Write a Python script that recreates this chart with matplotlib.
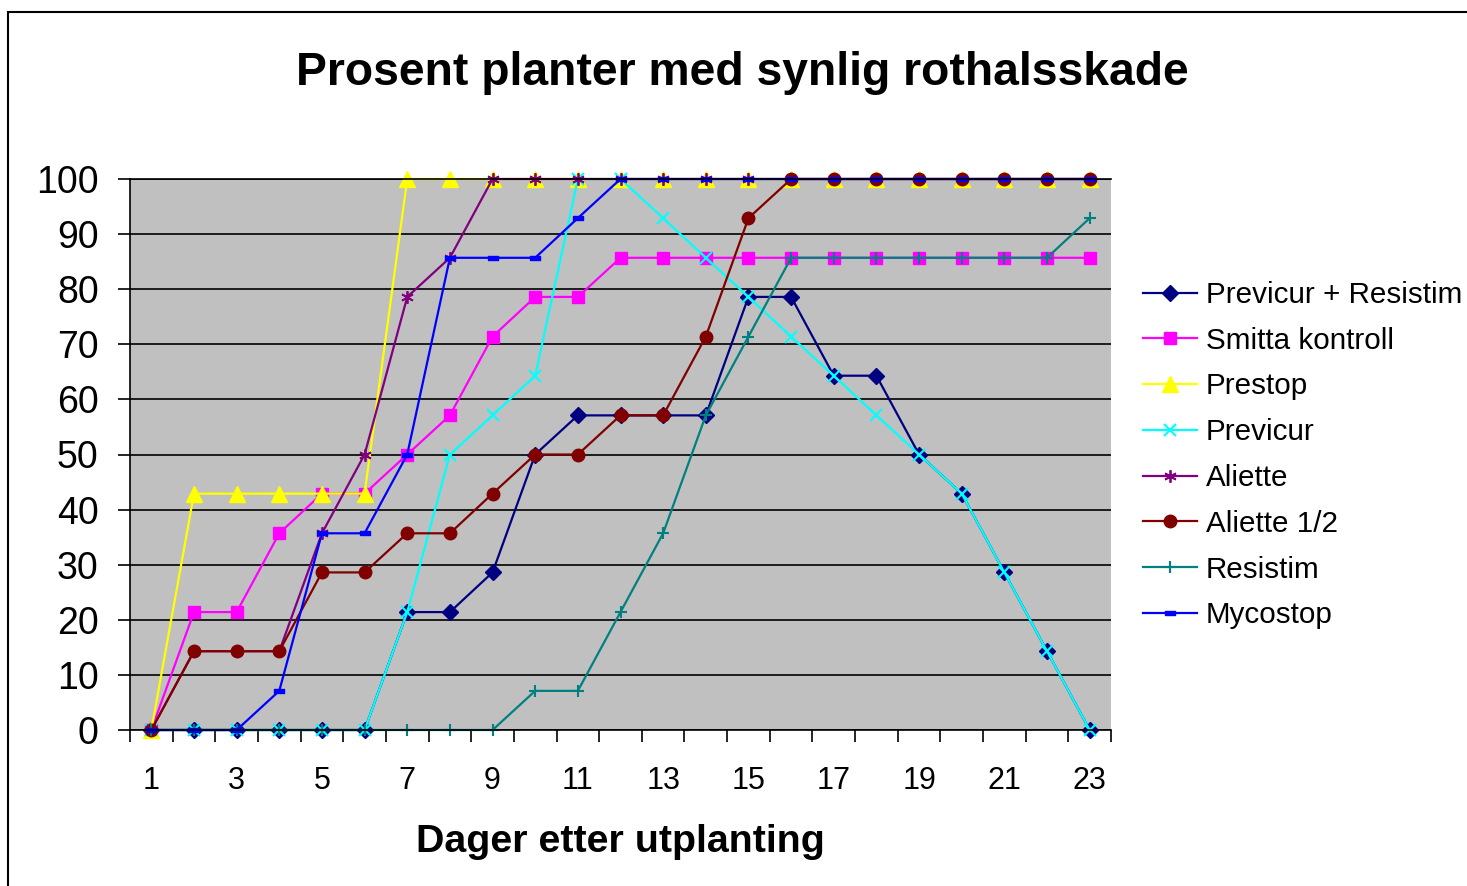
import numpy as np
import matplotlib.pyplot as plt
from matplotlib.patches import Rectangle
from matplotlib.ticker import MultipleLocator, FixedLocator

plt.rcParams['font.family'] = ['Liberation Sans', 'DejaVu Sans']

# Data (percent of plants with visible damage, 14 plants per treatment)
days = list(range(1, 24))

previcur_resistim = [0, 0, 0, 0, 0, 0, 21.4, 21.4, 28.6, 50, 57.1, 57.1, 57.1, 57.1,
                     78.6, 78.6, 64.3, 64.3, 50, 42.9, 28.6, 14.3, 0]
smitta_kontroll = [0, 21.4, 21.4, 35.7, 42.9, 42.9, 50, 57.1, 71.4, 78.6, 78.6, 85.7,
                   85.7, 85.7, 85.7, 85.7, 85.7, 85.7, 85.7, 85.7, 85.7, 85.7, 85.7]
prestop = [0, 42.9, 42.9, 42.9, 42.9, 42.9, 100, 100, 100, 100, 100, 100,
           100, 100, 100, 100, 100, 100, 100, 100, 100, 100, 100]
previcur = [0, 0, 0, 0, 0, 0, 21.4, 50, 57.1, 64.3, 100, 100, 92.9, 85.7,
            78.6, 71.4, 64.3, 57.1, 50, 42.9, 28.6, 14.3, 0]
aliette = [0, 14.3, 14.3, 14.3, 35.7, 50, 78.6, 85.7, 100, 100, 100, 100,
           100, 100, 100, 100, 100, 100, 100, 100, 100, 100, 100]
aliette_half = [0, 14.3, 14.3, 14.3, 28.6, 28.6, 35.7, 35.7, 42.9, 50, 50, 57.1,
                57.1, 71.4, 92.9, 100, 100, 100, 100, 100, 100, 100, 100]
resistim = [0, 0, 0, 0, 0, 0, 0, 0, 0, 7.1, 7.1, 21.4, 35.7, 57.1, 71.4, 85.7,
            85.7, 85.7, 85.7, 85.7, 85.7, 85.7, 92.9]
mycostop = [0, 0, 0, 7.1, 35.7, 35.7, 50, 85.7, 85.7, 85.7, 92.9, 100,
            100, 100, 100, 100, 100, 100, 100, 100, 100, 100, 100]

labels = ["Previcur + Resistim", "Smitta kontroll", "Prestop", "Previcur",
          "Aliette", "Aliette 1/2", "Resistim", "Mycostop"]

dash = [(-1, -0.45), (1, -0.45), (1, 0.45), (-1, 0.45), (-1, -0.45)]

styles = [
    dict(color="#000080", marker="D", ms=8),
    dict(color="#FF00FF", marker="s", ms=9),
    dict(color="#FFFF00", marker="^", ms=11),
    dict(color="#00FFFF", marker="x", ms=8, mew=1.5),
    dict(color="#800080", marker=(6, 2, 0), ms=9, mew=1.3),
    dict(color="#800000", marker="o", ms=9),
    dict(color="#008080", marker="+", ms=9, mew=1.5),
    dict(color="#0000FF", marker=dash, ms=7),
]

series = [previcur_resistim, smitta_kontroll, prestop, previcur,
          aliette, aliette_half, resistim, mycostop]

fig = plt.figure(figsize=(14.67, 8.86), dpi=100)

# outer chart border
fig.patches.append(Rectangle((8 / 1467, -0.1), 1.2, 1.1 - 12 / 886,
                             transform=fig.transFigure, fill=False,
                             edgecolor="black", lw=1.5))

ax = fig.add_axes([130 / 1467, 1 - 730 / 886, 981 / 1467, 551 / 886])
ax.set_facecolor("#C0C0C0")

for y, lab, st in zip(series, labels, styles):
    ax.plot(days, y, lw=1.6, label=lab, clip_on=False, **st)

ax.set_xlim(0.5, 23.5)
ax.set_ylim(0, 100)
ax.yaxis.set_major_locator(MultipleLocator(10))
ax.grid(axis="y", color="black", lw=1.2)
ax.set_axisbelow(True)

ax.xaxis.set_major_locator(FixedLocator(days[::2]))
ax.xaxis.set_minor_locator(FixedLocator(np.arange(0.5, 24, 1)))
ax.tick_params(axis="x", which="major", length=0, pad=26, labelsize=22)
ax.tick_params(axis="x", which="minor", length=8.5, width=1.2, direction="out")
ax.tick_params(axis="y", which="major", length=8.5, width=1.2, pad=14, labelsize=27)

ax.spines["right"].set_visible(False)
for s in ["left", "bottom", "top"]:
    ax.spines[s].set_linewidth(1.2)

fig.text(742 / 1467, 1 - 85 / 886, "Prosent planter med synlig rothalsskade",
         fontsize=33.3, fontweight="bold", ha="center", va="baseline")
fig.text(620.5 / 1467, 1 - 852 / 886, "Dager etter utplanting",
         fontsize=28.4, fontweight="bold", ha="center", va="baseline")

fig.legend(loc="upper left", bbox_to_anchor=(1143 / 1467, 1 - 281 / 886),
           frameon=False, fontsize=21.3, handlelength=1.82, handletextpad=0.3,
           labelspacing=0.6, borderaxespad=0, borderpad=0)

fig.savefig("out.png", dpi=100)
